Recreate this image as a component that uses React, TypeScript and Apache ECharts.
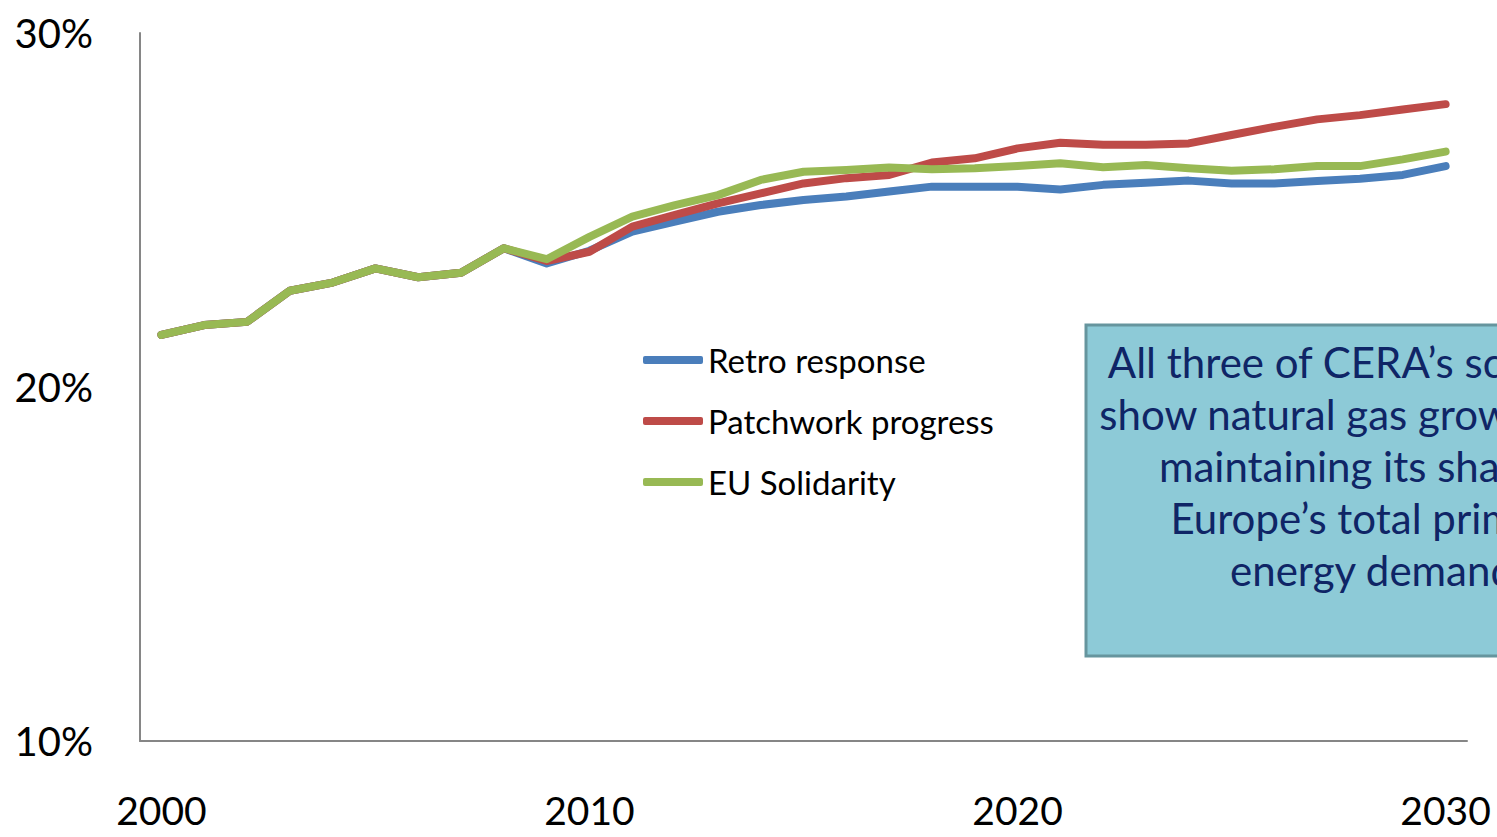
import React, { useEffect, useRef } from "react";
import * as echarts from "echarts";

const years: string[] = [];
for (let y = 2000; y <= 2030; y++) years.push(String(y));

const retroResponse = [
  21.47, 21.75, 21.84, 22.72, 22.95, 23.35, 23.1, 23.23, 23.92, 23.49,
  23.85, 24.39, 24.67, 24.95, 25.14, 25.28, 25.38, 25.52, 25.66, 25.66,
  25.66, 25.58, 25.71, 25.77, 25.83, 25.75, 25.75, 25.82, 25.88, 25.99, 26.24,
];
const patchworkProgress = [
  21.47, 21.75, 21.84, 22.72, 22.95, 23.35, 23.1, 23.23, 23.92, 23.56,
  23.82, 24.53, 24.86, 25.19, 25.47, 25.75, 25.9, 25.99, 26.34, 26.46,
  26.74, 26.9, 26.84, 26.84, 26.88, 27.12, 27.35, 27.56, 27.68, 27.84, 27.99,
];
const euSolidarity = [
  21.47, 21.75, 21.84, 22.72, 22.95, 23.35, 23.1, 23.23, 23.92, 23.61,
  24.24, 24.81, 25.14, 25.42, 25.85, 26.08, 26.13, 26.2, 26.15, 26.18,
  26.24, 26.32, 26.21, 26.27, 26.18, 26.11, 26.15, 26.24, 26.24, 26.43, 26.65,
];

const seriesNames = ["Retro response", "Patchwork progress", "EU Solidarity"];
const seriesColors = ["#4A7EBB", "#BE4B48", "#98B954"];
const calloutLines = [
  "All three of CERA\u2019s scenarios",
  "show natural gas growing and",
  "maintaining its share of",
  "Europe\u2019s total primary",
  "energy demand",
];

export default function App() {
  const ref = useRef<HTMLDivElement>(null);
  useEffect(() => {
    document.body.style.margin = "0";
    const chart = echarts.init(ref.current!, null, { renderer: "svg" });
    const data = [retroResponse, patchworkProgress, euSolidarity];
    chart.setOption({
      animation: false,
      backgroundColor: "#ffffff",
      grid: { left: 140, right: 30, top: 33, bottom: 96, containLabel: false },
      legend: {
        orient: "vertical",
        left: 638,
        top: 335,
        itemWidth: 60,
        itemHeight: 8,
        itemGap: 21,
        icon: "roundRect",
        textStyle: { fontFamily: "Lato", fontSize: 33, color: "#000", lineHeight: 40 },
        data: seriesNames,
      },
      xAxis: {
        type: "category",
        data: years,
        boundaryGap: true,
        axisLine: { lineStyle: { color: "#868686", width: 2 } },
        axisTick: { show: false },
        axisLabel: {
          interval: 9,
          margin: 52,
          lineHeight: 34,
          fontFamily: "Lato",
          fontSize: 39,
          color: "#000",
        },
        splitLine: { show: false },
      },
      yAxis: {
        type: "value",
        min: 10,
        max: 30,
        interval: 10,
        axisLine: { show: true, lineStyle: { color: "#868686", width: 2 } },
        axisTick: { show: false },
        splitLine: { show: false },
        axisLabel: {
          formatter: "{value}%",
          margin: 47,
          fontFamily: "Lato",
          fontSize: 40,
          color: "#000",
        },
      },
      series: seriesNames.map((name, i) => ({
        name,
        type: "line",
        data: data[i],
        symbol: "none",
        lineStyle: { width: 8, color: seriesColors[i], cap: "round", join: "round" },
        itemStyle: { color: seriesColors[i] },
        z: 2 + i,
      })),
      graphic: [
        {
          type: "rect",
          shape: { x: 1086, y: 325, width: 600, height: 331 },
          style: { fill: "#8DCAD7", stroke: "#66959E", lineWidth: 3 },
          z: 10,
        },
        {
          type: "text",
          x: 1372,
          y: 336,
          style: {
            text: calloutLines.join("\n"),
            textAlign: "center",
            textVerticalAlign: "top",
            fontFamily: "Lato",
            fontSize: 42,
            lineHeight: 52,
            fill: "#0F2566",
          },
          z: 11,
        },
      ],
    });
    return () => chart.dispose();
  }, []);
  return <div ref={ref} style={{ width: 1497, height: 837 }} />;
}
